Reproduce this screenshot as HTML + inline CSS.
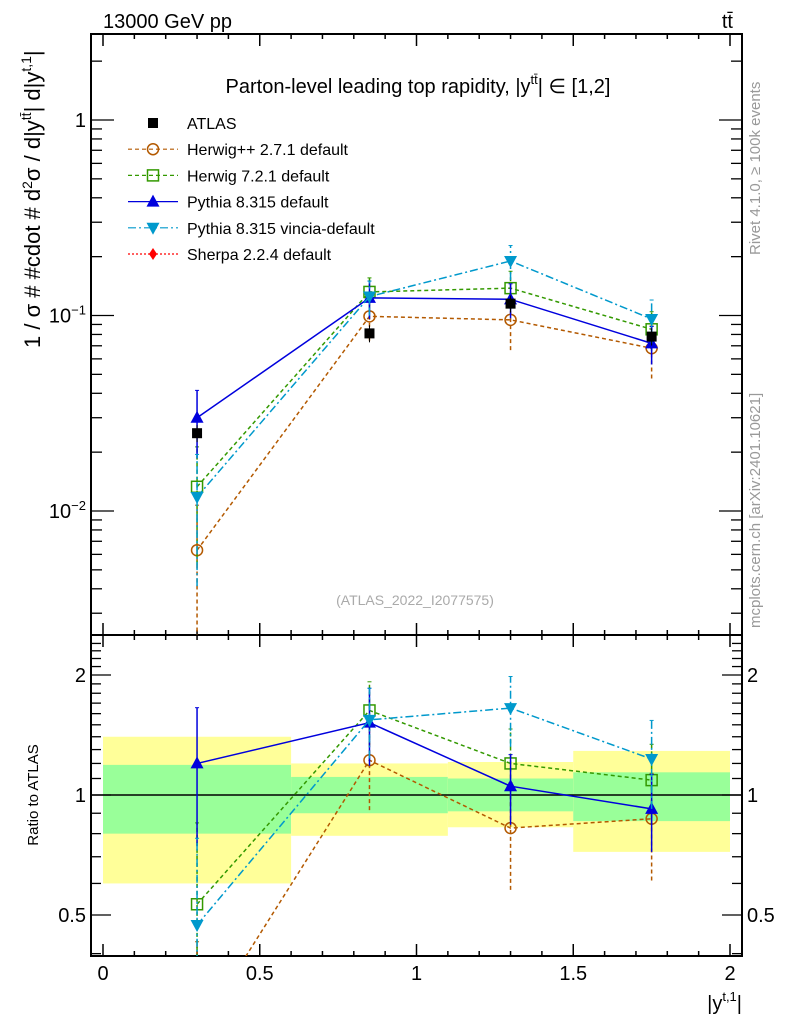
<!DOCTYPE html>
<html><head><meta charset="utf-8"><style>
html,body{margin:0;background:#fff;width:786px;height:1024px;overflow:hidden}
svg{display:block;font-family:"Liberation Sans",sans-serif}
</style></head><body>
<svg id="c" width="786" height="1024" viewBox="0 0 786 1024">
<g id="bands"></g>
<g id="axes"></g>
<g id="series"></g>
<g id="legend"></g>
<text x="103" y="28" font-size="20">13000 GeV pp</text>
<text x="733" y="28" font-size="20" text-anchor="end">tt̄</text>
<text x="418" y="93" font-size="20" text-anchor="middle">Parton-level leading top rapidity, |y<tspan dy="-9" font-size="13">tt̄</tspan><tspan dy="9">| ∈ [1,2]</tspan></text>
<text x="415" y="605" font-size="14" fill="#aaa" text-anchor="middle">(ATLAS_2022_I2077575)</text>
<text transform="translate(760,255) rotate(-90)" font-size="15" fill="#999">Rivet 4.1.0, ≥ 100k events</text>
<text transform="translate(760,628) rotate(-90)" font-size="15" fill="#999">mcplots.cern.ch [arXiv:2401.10621]</text>
<text transform="translate(40,348) rotate(-90)" font-size="22">1 / σ # #cdot # d<tspan dy="-8" font-size="14">2</tspan><tspan dy="8">σ / d|y</tspan><tspan dy="-9" font-size="14">tt̄</tspan><tspan dy="9">| d|y</tspan><tspan dy="-9" font-size="14">t,1</tspan><tspan dy="9">|</tspan></text>
<text transform="translate(38,795) rotate(-90)" font-size="15" text-anchor="middle">Ratio to ATLAS</text>
<text x="742" y="1010" font-size="20" text-anchor="end">|y<tspan dy="-9" font-size="13">t,1</tspan><tspan dy="9">|</tspan></text>
</svg>
<script>
const xCenters=[0.3,0.85,1.3,1.75];
const binEdges=[0,0.6,1.1,1.5,2];
const atlas=[0.025,0.081,0.115,0.078];
const herwigpp=[0.0063,0.099,0.095,0.068];
const herwig7=[0.0133,0.132,0.138,0.085];
const pythia=[0.030,0.123,0.121,0.072];
const vincia=[0.0118,0.125,0.19,0.096];
const errHerwigpp=[0.7,0.25,0.3,0.3];
const errHerwig7=[0.6,0.18,0.22,0.23];
const errPythia=[0.38,0.22,0.2,0.22];
const errVincia=[0.65,0.2,0.2,0.25];
const greenLo=[0.80,0.90,0.91,0.86];
const greenHi=[1.19,1.11,1.10,1.14];
const yellowLo=[0.60,0.79,0.83,0.72];
const yellowHi=[1.40,1.20,1.21,1.29];
const xTickLabels=["0","0.5","1","1.5","2"];

const NS="http://www.w3.org/2000/svg";
const L=91,R=742,T=34,M=635,B=956;
const X=v=>103+v*313.5;
const Y=v=>120-Math.log10(v)*195.5;
const YR=v=>795-Math.log2(v)*120;
function mk(p,tag,a){const e=document.createElementNS(NS,tag);for(const k in a)e.setAttribute(k,a[k]);p.appendChild(e);return e;}
const gB=document.getElementById('bands'),gA=document.getElementById('axes'),gS=document.getElementById('series'),gL=document.getElementById('legend');

for(let i=0;i<4;i++){
 const x0=X(binEdges[i]),x1=X(binEdges[i+1]);
 let r=mk(gB,'rect',{x:x0,y:YR(yellowHi[i]),width:x1-x0,height:YR(yellowLo[i])-YR(yellowHi[i]),fill:'#ffff99'});
 
 
 r=mk(gB,'rect',{x:x0,y:YR(greenHi[i]),width:x1-x0,height:YR(greenLo[i])-YR(greenHi[i]),fill:'#99ff99'});
 
 
}
let f=mk(gA,'rect',{x:L,y:T,width:R-L,height:M-T,fill:'none',stroke:'#000','stroke-width':2});


f=mk(gA,'rect',{x:L,y:M,width:R-L,height:B-M,fill:'none',stroke:'#000','stroke-width':2});


mk(gA,'line',{x1:L,x2:R,y1:YR(1),y2:YR(1),stroke:'#000','stroke-width':1.5});
for(let k=0;k<=20;k++){
 const v=k/10,x=X(v),len=k%5==0?12:5;
 [[T,1],[M,-1],[M,1],[B,-1]].forEach(([y,d])=>mk(gA,'line',{x1:x,x2:x,y1:y,y2:y+d*len,stroke:'#000','stroke-width':1.5}));
}
xTickLabels.forEach((t,i)=>{const e=mk(gA,'text',{x:X(i*0.5),y:980,'font-size':20,'text-anchor':'middle'});e.textContent=t;
 
 });
for(let d=-3;d<=0;d++)for(let m=1;m<10;m++){
 const v=m*Math.pow(10,d),y=Y(v);if(y<T||y>M)continue;const len=m==1?23:11;
 mk(gA,'line',{x1:L,x2:L+len,y1:y,y2:y,stroke:'#000','stroke-width':1.3});mk(gA,'line',{x1:R,x2:R-len,y1:y,y2:y,stroke:'#000','stroke-width':1.3});
}
const yl=[[1,'1'],[0.1,'10<tspan dy="-8" font-size="13">−1</tspan>'],[0.01,'10<tspan dy="-8" font-size="13">−2</tspan>']];
yl.forEach(([v,t])=>{const e=mk(gA,'text',{x:86,y:Y(v)+7,'font-size':20,'text-anchor':'end'});e.innerHTML=t;
 
 });
for(let v=0.4;v<=2.5;v+=0.1){const vv=Math.round(v*10)/10,y=YR(vv);if(y<M||y>B)continue;const len=(vv==0.5||vv==1||vv==2)?20:10;
 mk(gA,'line',{x1:L,x2:L+len,y1:y,y2:y,stroke:'#000','stroke-width':1.3});mk(gA,'line',{x1:R,x2:R-len,y1:y,y2:y,stroke:'#000','stroke-width':1.3});}
[[2,'2'],[1,'1'],[0.5,'0.5']].forEach(([v,t])=>{
 let e=mk(gA,'text',{x:86,y:YR(v)+7,'font-size':20,'text-anchor':'end'});e.textContent=t;
 
 
 e=mk(gA,'text',{x:747,y:YR(v)+7,'font-size':20});e.textContent=t;
 
 });

function marker(g,type,x,y,c,s){
 if(type=='sq')mk(g,'rect',{x:x-s,y:y-s,width:2*s,height:2*s,fill:c});
 else if(type=='osq')mk(g,'rect',{x:x-5.5,y:y-5.5,width:11,height:11,fill:'none',stroke:c,'stroke-width':1.5});
 else if(type=='oc')mk(g,'circle',{cx:x,cy:y,r:5.5,fill:'none',stroke:c,'stroke-width':1.5});
 else if(type=='tu')mk(g,'polygon',{points:`${x},${y-7} ${x-6.5},${y+5} ${x+6.5},${y+5}`,fill:c});
 else if(type=='td')mk(g,'polygon',{points:`${x},${y+7} ${x-6.5},${y-5} ${x+6.5},${y-5}`,fill:c});
 else if(type=='di')mk(g,'polygon',{points:`${x},${y-6} ${x-4},${y} ${x},${y+6} ${x+4},${y}`,fill:c});
}
const series=[
 {name:'herwigpp',vals:herwigpp,err:errHerwigpp,c:'#b35900',dash:'4,3',m:'oc',label:'Herwig++ 2.7.1 default'},
 {name:'herwig7',vals:herwig7,err:errHerwig7,c:'#339900',dash:'4,3',m:'osq',label:'Herwig 7.2.1 default'},
 {name:'pythia',vals:pythia,err:errPythia,c:'#0000dd',dash:'',m:'tu',label:'Pythia 8.315 default'},
 {name:'vincia',vals:vincia,err:errVincia,c:'#0099cc',dash:'8,3,2,3',m:'td',label:'Pythia 8.315 vincia-default'}
];
const clip=mk(gS,'defs',{});
clip.innerHTML=`<clipPath id="cm"><rect x="${L}" y="${T}" width="${R-L}" height="${M-T}"/></clipPath><clipPath id="cr"><rect x="${L}" y="${M}" width="${R-L}" height="${B-M}"/></clipPath>`;
series.forEach(s=>{
 ['main','ratio'].forEach(p=>{
  const g=mk(gS,'g',{'clip-path':p=='main'?'url(#cm)':'url(#cr)'});
  
  
  const vals=s.vals.map((v,i)=>p=='main'?v:v/atlas[i]);
  const yf=p=='main'?Y:YR;
  const pts=vals.map((v,i)=>X(xCenters[i])+','+yf(v)).join(' ');
  mk(g,'polyline',{points:pts,fill:'none',stroke:s.c,'stroke-width':1.5,'stroke-dasharray':s.dash});
  vals.forEach((v,i)=>{const x=X(xCenters[i]),lo=Math.max(v*(1-s.err[i]),1e-4),hi=v*(1+s.err[i]);
   mk(g,'line',{x1:x,x2:x,y1:yf(lo),y2:yf(hi),stroke:s.c,'stroke-width':1.5,'stroke-dasharray':s.dash});
   mk(g,'line',{x1:x-2,x2:x+2,y1:yf(hi),y2:yf(hi),stroke:s.c});
   marker(g,s.m,x,yf(v),s.c);});
 });
});
const ga=mk(gS,'g',{});


atlas.forEach((v,i)=>{const x=X(xCenters[i]);mk(ga,'line',{x1:x,x2:x,y1:Y(v*1.1),y2:Y(v*0.9),stroke:'#000'});marker(ga,'sq',x,Y(v),'#000',5);});
const leg=[{label:'ATLAS',m:'sq',c:'#000',dash:null}].concat(series).concat([{label:'Sherpa 2.2.4 default',m:'di',c:'#ff0000',dash:'2,2'}]);
leg.forEach((s,i)=>{const y=123+i*26.2;const g=mk(gL,'g',{});
 
 
 if(s.dash!==null&&s.dash!==undefined)mk(g,'line',{x1:128,x2:178,y1:y,y2:y,stroke:s.c,'stroke-width':1.2,'stroke-dasharray':s.dash||'none'});
 marker(g,s.m,153,y,s.c,5);
 const t=mk(g,'text',{x:187,y:y+6,'font-size':16});t.textContent=s.label;});
</script>
</body></html>
